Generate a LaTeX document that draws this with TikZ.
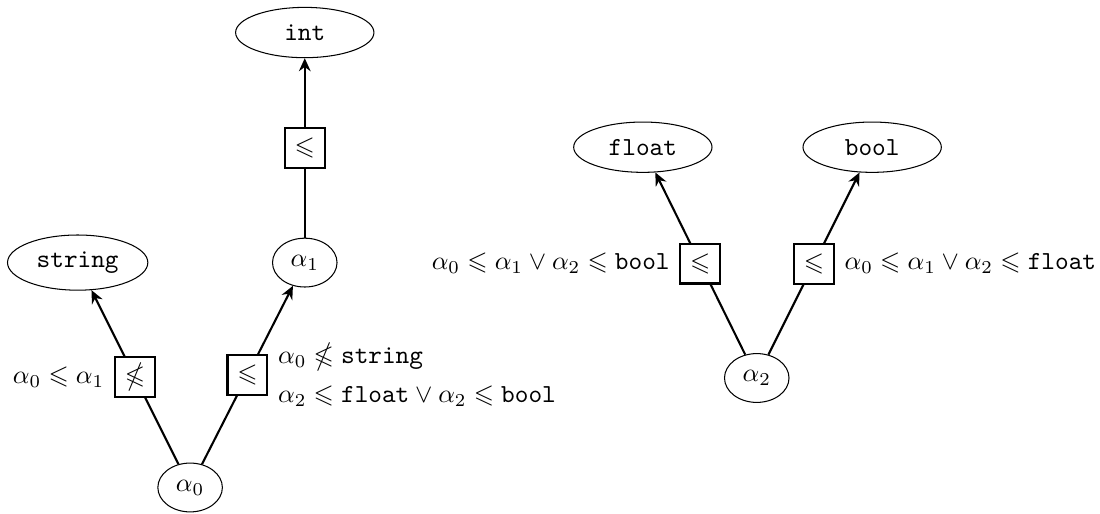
\documentclass[tikz,border=0pt]{standalone}
\usepackage{amsmath, amssymb}
\usepackage{tikz}
\usetikzlibrary{shapes.geometric, arrows.meta}

\begin{document}
\begin{tikzpicture}[
  var/.style={ellipse, draw, thin, minimum width=0.85cm, minimum height=0.66cm},
  ty/.style={ellipse, draw, thin, minimum width=1.87cm, minimum height=0.68cm},
  op/.style={rectangle, draw, thick, fill=white, minimum size=0.54cm, inner sep=1pt},
  edge/.style={thick, -{Stealth[length=5pt, width=4.5pt]}},
]
\useasboundingbox (0,0) rectangle (14.87,6.94);

% left tree
\node[ty] (int) at (4.12,6.50) {\texttt{int}};
\node[ty] (str) at (1.05,3.39) {\texttt{string}};
\node[var] (a1) at (4.12,3.39) {$\alpha_1$};
\node[var] (a0) at (2.57,0.35) {$\alpha_0$};

\draw[edge] (a1) -- node[op] (c-int) {$\leqslant$} (int);
\draw[edge] (a0) --
node[op, label=left:{$\alpha_0 \leqslant \alpha_1$}] (c-str) {$\nleqslant$}
(str);
\draw[edge] (a0) --
node[op, label={[align=left]right:{$\alpha_0 \nleqslant \texttt{string}$\\[3pt]
  $\alpha_2 \leqslant \texttt{float} \vee \alpha_2 \leqslant \texttt{bool}$}}] (c-a1) {$\leqslant$}
(a1);

% right tree
\node[ty] (flt) at (8.69,4.95) {\texttt{float}};
\node[ty] (bool) at (11.79,4.95) {\texttt{bool}};
\node[var] (a2) at (10.23,1.83) {$\alpha_2$};

\draw[edge] (a2) --
node[op, label=left:{$\alpha_0 \leqslant \alpha_1 \vee \alpha_2 \leqslant \texttt{bool}$}] (c-flt) {$\leqslant$}
(flt);
\draw[edge] (a2) --
node[op, label=right:{$\alpha_0 \leqslant \alpha_1 \vee \alpha_2 \leqslant \texttt{float}$}] (c-bool) {$\leqslant$}
(bool);

\end{tikzpicture}
\end{document}
